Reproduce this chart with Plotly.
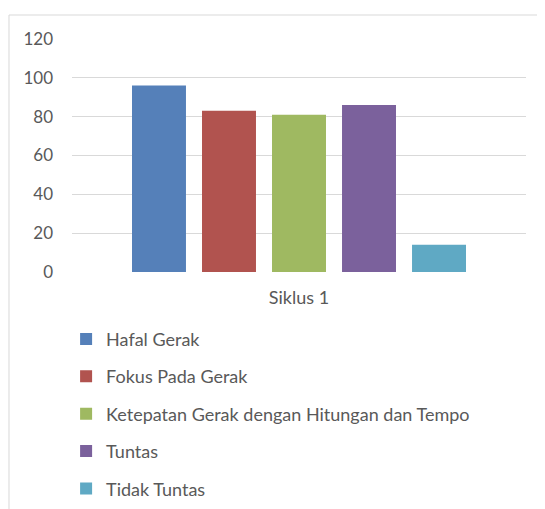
import plotly.graph_objects as go

categories = ["Siklus 1"]
series_names = [
    "Hafal Gerak",
    "Fokus Pada Gerak",
    "Ketepatan Gerak dengan Hitungan dan Tempo",
    "Tuntas",
    "Tidak Tuntas",
]
series_values = [96, 83, 81, 86, 14]
series_colors = ["#5580b9", "#b1534f", "#9fb961", "#7b619c", "#5fa9c4"]
y_ticks = [0, 20, 40, 60, 80, 100, 120]

FONT = "Lato"
GRAY = "#595959"

fig = go.Figure()
for i, (name, val, col) in enumerate(zip(series_names, series_values, series_colors)):
    fig.add_trace(go.Bar(
        x=categories, y=[val], name=name,
        marker=dict(color=col, line=dict(width=0)),
        legendgroup=f"g{i}",
    ))

fig.update_layout(
    width=545, height=545,
    margin=dict(l=64, r=27, t=31, b=281),
    paper_bgcolor="white", plot_bgcolor="white",
    barmode="group", bargap=0.229, bargroupgap=0.229,
    font=dict(family=FONT, size=18, color=GRAY),
    showlegend=True,
    legend=dict(
        orientation="v", x=-0.013, xanchor="left",
        y=-0.209, yanchor="top",
        font=dict(family=FONT, size=18, color=GRAY),
        tracegroupgap=11, bgcolor="rgba(0,0,0,0)",
        traceorder="grouped",
    ),
    xaxis=dict(
        showgrid=False, showline=False, zeroline=False,
        tickfont=dict(family=FONT, size=18, color=GRAY),
        ticklabelstandoff=13,
    ),
    yaxis=dict(
        range=[0, 120], tickvals=y_ticks, showgrid=True,
        gridcolor="#d9d9d9", gridwidth=1, zeroline=False, showline=False,
        tickfont=dict(family=FONT, size=17, color=GRAY),
        ticklabelstandoff=18,
    ),
    shapes=[dict(
        type="rect", xref="paper", yref="paper",
        x0=-0.1388, x1=1.08, y0=-1.1, y1=1.103,
        line=dict(color="#d9d9d9", width=1), fillcolor="rgba(0,0,0,0)", layer="below",
    )],
)

fig.write_html("out.html")
